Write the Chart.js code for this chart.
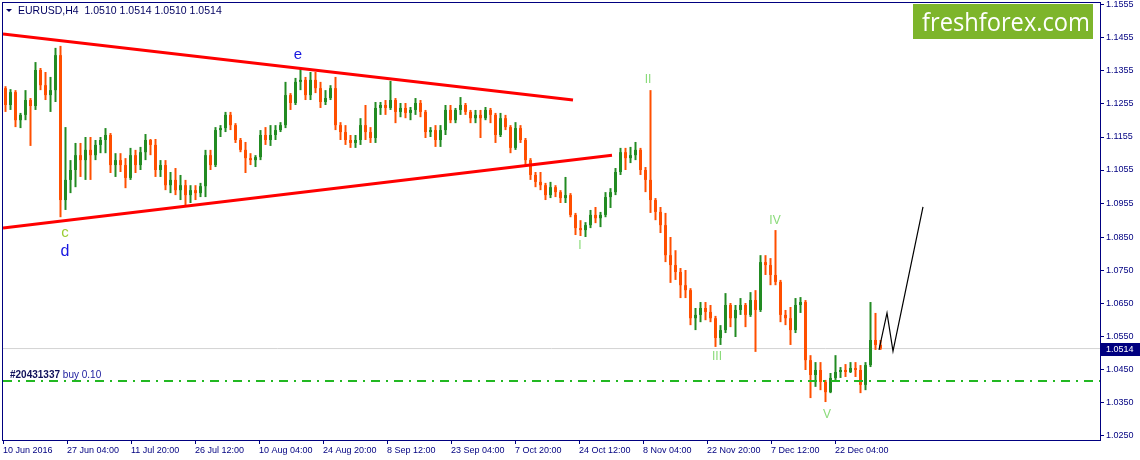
<!DOCTYPE html>
<html><head><meta charset="utf-8">
<script src="https://cdn.jsdelivr.net/npm/chart.js@4.4.1/dist/chart.umd.min.js"></script>
<style>html,body{margin:0;padding:0;background:#fff;overflow:hidden}canvas{display:block}</style>
</head><body>
<canvas id="c" width="1140" height="460"></canvas>
<script>
// ---- DATA ----
const symbolTitle = "EURUSD,H4";
const lastBarOHLC = ["1.0510", "1.0514", "1.0510", "1.0514"];
const barsPerCandle = 5; // each drawn candle aggregates 5 H4 bars

const open = [
1.1303,1.1252,1.1291,1.1206,1.1222,1.1267,1.1249,1.1358,1.1312,1.1282,
1.1297,1.1403,1.0964,1.1025,1.1055,1.1100,1.1085,1.1116,1.1100,1.1131,
1.1146,1.1161,1.1070,1.1085,1.1070,1.1031,1.1100,1.1070,1.1109,1.1146,
1.1131,1.1055,1.1070,1.1009,1.1025,1.0994,1.1009,1.0979,1.0994,1.0985,
1.1006,1.1100,1.1070,1.1176,1.1182,1.1222,1.1191,1.1146,1.1116,1.1091,
1.1085,1.1094,1.1161,1.1146,1.1161,1.1176,1.1191,1.1282,1.1258,1.1322,
1.1328,1.1282,1.1328,1.1303,1.1261,1.1273,1.1303,1.1191,1.1170,1.1146,
1.1137,1.1146,1.1191,1.1170,1.1152,1.1243,1.1252,1.1243,1.1267,1.1231,
1.1243,1.1228,1.1237,1.1258,1.1231,1.1170,1.1176,1.1146,1.1176,1.1237,
1.1206,1.1237,1.1252,1.1231,1.1212,1.1222,1.1212,1.1237,1.1222,1.1161,
1.1212,1.1185,1.1122,1.1182,1.1146,1.1085,1.1040,1.1019,1.1009,1.0979,
1.1003,1.0988,1.0970,1.0979,1.0919,1.0879,1.0873,1.0888,1.0919,1.0909,
1.0919,1.0973,1.0988,1.1049,1.1109,1.1091,1.1100,1.1116,1.1055,1.1025,
1.0964,1.0928,1.0888,1.0797,1.0767,1.0746,1.0706,1.0691,1.0606,1.0616,
1.0637,1.0625,1.0606,1.0546,1.0570,1.0646,1.0606,1.0631,1.0646,1.0616,
1.0661,1.0631,1.0776,1.0767,1.0737,1.0716,1.0616,1.0606,1.0570,1.0646,
1.0655,1.0479,1.0434,1.0449,1.0413,1.0382,1.0425,1.0443,1.0449,1.0443,
1.0455,1.0449,1.0404,1.0464,1.0540,1.0525];
const high = [
1.1309,1.1300,1.1297,1.1228,1.1297,1.1273,1.1382,1.1364,1.1352,1.1337,
1.1425,1.1431,1.1185,1.1085,1.1137,1.1137,1.1155,1.1155,1.1146,1.1155,
1.1182,1.1167,1.1106,1.1106,1.1091,1.1122,1.1116,1.1125,1.1164,1.1149,
1.1149,1.1085,1.1085,1.1049,1.1061,1.1040,1.1025,1.1009,1.1009,1.1016,
1.1116,1.1116,1.1185,1.1191,1.1231,1.1231,1.1197,1.1152,1.1140,1.1106,
1.1100,1.1176,1.1185,1.1191,1.1191,1.1200,1.1322,1.1288,1.1334,1.1364,
1.1337,1.1352,1.1352,1.1322,1.1297,1.1312,1.1337,1.1200,1.1191,1.1161,
1.1161,1.1212,1.1252,1.1185,1.1261,1.1261,1.1267,1.1325,1.1273,1.1258,
1.1258,1.1246,1.1273,1.1267,1.1237,1.1185,1.1191,1.1191,1.1252,1.1252,
1.1243,1.1276,1.1258,1.1237,1.1237,1.1237,1.1246,1.1243,1.1228,1.1228,
1.1222,1.1191,1.1200,1.1191,1.1152,1.1091,1.1049,1.1049,1.1016,1.1019,
1.1009,1.0994,1.1034,1.0985,1.0925,1.0903,1.0897,1.0934,1.0943,1.0928,
1.0988,1.1000,1.1061,1.1122,1.1122,1.1125,1.1140,1.1122,1.1064,1.1297,
1.0970,1.0943,1.0925,1.0852,1.0812,1.0758,1.0752,1.0697,1.0637,1.0655,
1.0655,1.0646,1.0613,1.0585,1.0682,1.0652,1.0646,1.0667,1.0652,1.0685,
1.0691,1.0797,1.0797,1.0788,1.0873,1.0722,1.0631,1.0640,1.0667,1.0670,
1.0661,1.0494,1.0473,1.0473,1.0419,1.0440,1.0494,1.0458,1.0467,1.0473,
1.0473,1.0464,1.0473,1.0655,1.0622,1.0540];
const low = [
1.1231,1.1237,1.1185,1.1182,1.1206,1.1128,1.1237,1.1297,1.1267,1.1231,
1.1261,1.0912,1.0934,1.0985,1.1003,1.1034,1.1025,1.1025,1.1085,1.1106,
1.1106,1.1046,1.1034,1.1049,1.1000,1.1025,1.1046,1.1055,1.1085,1.1100,
1.1034,1.1034,1.0994,1.0985,1.0979,1.0964,1.0949,1.0955,1.0964,1.0973,
1.0973,1.1055,1.1064,1.1155,1.1170,1.1176,1.1137,1.1109,1.1046,1.1070,
1.1064,1.1085,1.1131,1.1128,1.1146,1.1170,1.1182,1.1237,1.1252,1.1297,
1.1267,1.1267,1.1288,1.1243,1.1252,1.1267,1.1176,1.1146,1.1131,1.1122,
1.1122,1.1131,1.1146,1.1137,1.1137,1.1222,1.1222,1.1237,1.1197,1.1215,
1.1212,1.1206,1.1222,1.1215,1.1152,1.1155,1.1125,1.1125,1.1161,1.1197,
1.1197,1.1222,1.1222,1.1197,1.1197,1.1152,1.1206,1.1197,1.1137,1.1155,
1.1176,1.1106,1.1116,1.1137,1.1070,1.1025,1.1003,1.0994,1.0964,1.0970,
1.0973,1.0955,1.0955,1.0912,1.0858,1.0855,1.0852,1.0879,1.0894,1.0882,
1.0912,1.0940,1.0979,1.1040,1.1055,1.1076,1.1085,1.1040,1.0988,1.0925,
1.0903,1.0864,1.0776,1.0713,1.0722,1.0667,1.0667,1.0585,1.0570,1.0594,
1.0600,1.0594,1.0519,1.0525,1.0561,1.0579,1.0549,1.0616,1.0579,1.0610,
1.0504,1.0625,1.0737,1.0706,1.0706,1.0594,1.0585,1.0525,1.0561,1.0622,
1.0449,1.0364,1.0398,1.0388,1.0352,1.0379,1.0419,1.0425,1.0428,1.0440,
1.0428,1.0379,1.0388,1.0458,1.0510,1.0510];
const close = [
1.1252,1.1291,1.1206,1.1222,1.1267,1.1249,1.1358,1.1312,1.1282,1.1297,
1.1403,1.0964,1.1025,1.1055,1.1100,1.1085,1.1116,1.1100,1.1131,1.1146,
1.1161,1.1070,1.1085,1.1070,1.1031,1.1100,1.1070,1.1109,1.1146,1.1131,
1.1055,1.1070,1.1009,1.1025,1.0994,1.1009,1.0979,1.0994,1.0985,1.1006,
1.1100,1.1070,1.1176,1.1182,1.1222,1.1191,1.1146,1.1116,1.1091,1.1085,
1.1094,1.1161,1.1146,1.1161,1.1176,1.1191,1.1282,1.1258,1.1322,1.1328,
1.1282,1.1328,1.1303,1.1261,1.1273,1.1303,1.1191,1.1170,1.1146,1.1137,
1.1146,1.1191,1.1170,1.1152,1.1243,1.1252,1.1243,1.1267,1.1231,1.1243,
1.1228,1.1237,1.1258,1.1231,1.1170,1.1176,1.1146,1.1176,1.1237,1.1206,
1.1237,1.1252,1.1231,1.1212,1.1222,1.1212,1.1237,1.1222,1.1161,1.1212,
1.1185,1.1122,1.1182,1.1146,1.1085,1.1040,1.1019,1.1009,1.0979,1.1003,
1.0988,1.0970,1.0979,1.0919,1.0879,1.0873,1.0888,1.0919,1.0909,1.0919,
1.0973,1.0988,1.1049,1.1109,1.1091,1.1100,1.1116,1.1055,1.1025,1.0964,
1.0928,1.0888,1.0797,1.0767,1.0746,1.0706,1.0691,1.0606,1.0616,1.0637,
1.0625,1.0606,1.0546,1.0570,1.0646,1.0606,1.0631,1.0646,1.0616,1.0661,
1.0631,1.0776,1.0767,1.0737,1.0716,1.0616,1.0606,1.0570,1.0646,1.0655,
1.0479,1.0434,1.0449,1.0413,1.0382,1.0425,1.0443,1.0449,1.0443,1.0455,
1.0449,1.0404,1.0464,1.0540,1.0525,1.0514];

// time axis (in H4 bars from 10 Jun 2016 00:00)
const xTickBars = [0,64,128,192,256,320,384,448,512,576,640,704,768,832];
const xTickLabels = ["10 Jun 2016","27 Jun 04:00","11 Jul 20:00","26 Jul 12:00","10 Aug 04:00",
  "24 Aug 20:00","8 Sep 12:00","23 Sep 04:00","7 Oct 20:00","24 Oct 12:00","8 Nov 04:00",
  "22 Nov 20:00","7 Dec 12:00","22 Dec 04:00"];
const xViewBars = [0, 1097];
const yTickValues = [1.1555,1.1455,1.1355,1.1255,1.1155,1.1055,1.0955,1.0850,1.0750,1.0650,1.0550,1.0450,1.0350,1.0250];
const priceView = [1.0237, 1.1561];

// drawn objects: [bar index, price]
const triangleUpper = [[0,1.1467],[570,1.1267]];
const triangleLower = [[0,1.0879],[609,1.1100]];
const forecastPath = [[876,1.0510],[884,1.0622],[890,1.0506],[920,1.0943]];
const orderPrice = 1.0416;
const orderLabel = "#20431337 buy 0.10";
const waveLabels = [
  {t:"e",  bar:295, p:1.1403, c:"#1818E0", s:15},
  {t:"c",  bar:62,  p:1.0864, c:"#9ACD32", s:15},
  {t:"d",  bar:62,  p:1.0809, c:"#1818E0", s:16},
  {t:"II", bar:645, p:1.1328, c:"#8ADB7A", s:12},
  {t:"I",  bar:577, p:1.0825, c:"#8ADB7A", s:12},
  {t:"III",bar:714, p:1.0488, c:"#8ADB7A", s:12},
  {t:"IV", bar:772, p:1.0900, c:"#8ADB7A", s:12},
  {t:"V",  bar:824, p:1.0313, c:"#8ADB7A", s:12}
];

// ---- STYLE ----
const NAVY = "#000080";
const BULL = "#228B22", BEAR = "#FF4F00", DOJI = "#000000";
const FONT = "'Liberation Sans', Arial, sans-serif";

const candleX = open.map((_, i) => i * barsPerCandle + barsPerCandle / 2);
const candleColor = open.map((o, i) => close[i] > o ? BULL : (close[i] < o ? BEAR : DOJI));
const lastClose = close[close.length - 1];
const toXY = arr => arr.map(([x, y]) => ({x, y}));

const overlay = {
  id: 'overlay',
  afterDatasetsDraw(chart) {
    const {ctx, scales: {x, y}} = chart;
    ctx.save();
    ctx.textAlign = 'center';
    ctx.textBaseline = 'middle';
    waveLabels.forEach(w => {
      ctx.font = w.s + "px " + FONT;
      ctx.fillStyle = w.c;
      ctx.fillText(w.t, x.getPixelForValue(w.bar), y.getPixelForValue(w.p));
    });
    // order label
    ctx.textAlign = 'left';
    ctx.textBaseline = 'bottom';
    ctx.font = "bold 10px " + FONT;
    ctx.fillStyle = "#10105A";
    const oy = y.getPixelForValue(orderPrice) - 1;
    ctx.fillText("#20431337", 10, oy);
    const w1 = ctx.measureText("#20431337 ").width;
    ctx.font = "10px " + FONT;
    ctx.fillStyle = "#2020A0";
    ctx.fillText(orderLabel.replace("#20431337 ", ""), 10 + w1, oy);
    ctx.restore();
  },
  afterDraw(chart) {
    const {ctx, chartArea: a, scales: {y}} = chart;
    ctx.save();
    // frame
    ctx.strokeStyle = NAVY;
    ctx.lineWidth = 1;
    ctx.strokeRect(Math.round(a.left) - 0.5, Math.round(a.top) - 0.5,
      Math.round(a.right - a.left) + 1, Math.round(a.bottom - a.top) + 1);
    // title
    ctx.fillStyle = "#000060";
    ctx.beginPath();
    ctx.moveTo(6, 9); ctx.lineTo(12, 9); ctx.lineTo(9, 12); ctx.closePath(); ctx.fill();
    ctx.font = "10.5px " + FONT;
    ctx.textBaseline = 'middle';
    ctx.textAlign = 'left';
    ctx.fillText(symbolTitle + "  " + lastBarOHLC.join(" "), 18, 11);
    // logo
    ctx.fillStyle = "#7DB52B";
    ctx.fillRect(913, 4, 180, 35);
    ctx.fillStyle = "#FFFFFF";
    ctx.font = "25px 'Open Sans', sans-serif";
    const tw = ctx.measureText("freshforex.com").width;
    ctx.translate(922, 31);
    ctx.scale(168 / tw, 1);
    ctx.textBaseline = 'alphabetic';
    ctx.fillText("freshforex.com", 0, 0);
    ctx.restore();
    // current price box
    ctx.save();
    const py = Math.round(y.getPixelForValue(lastClose));
    ctx.fillStyle = NAVY;
    ctx.fillRect(a.right + 1, py - 6, 40, 13);
    ctx.fillStyle = "#FFFFFF";
    ctx.font = "9px " + FONT;
    ctx.textAlign = 'left';
    ctx.textBaseline = 'middle';
    ctx.fillText(lastClose.toFixed(4), a.right + 6, py + 0.5);
    ctx.restore();
  }
};

new Chart(document.getElementById('c'), {
  type: 'bar',
  data: {
    datasets: [
      {type:'line', data: toXY(triangleUpper), borderColor:'#FF0000', borderWidth:3, pointRadius:0, order:0},
      {type:'line', data: toXY(triangleLower), borderColor:'#FF0000', borderWidth:3, pointRadius:0, order:0},
      {type:'line', data: toXY(forecastPath), borderColor:'#000000', borderWidth:1.2, pointRadius:0, order:0},
      {type:'line', data: [{x:xViewBars[0], y:orderPrice}, {x:xViewBars[1], y:orderPrice}],
        borderColor:'#22B822', borderWidth:2, borderDash:[9,6,2,6], pointRadius:0, order:1},
      {type:'bar', data: candleX.map((x, i) => ({x, y:[open[i], close[i]]})),
        backgroundColor: candleColor, barThickness:3, minBarLength:1, grouped:false,
        borderWidth:0, inflateAmount:0, order:2},
      {type:'bar', data: candleX.map((x, i) => ({x, y:[low[i], high[i]]})),
        backgroundColor: candleColor, barThickness:2, grouped:false,
        borderWidth:0, inflateAmount:0, order:3},
      {type:'line', data: [{x:xViewBars[0], y:lastClose}, {x:xViewBars[1], y:lastClose}],
        borderColor:'#D3D3D3', borderWidth:1, pointRadius:0, order:10}
    ]
  },
  options: {
    responsive: false,
    devicePixelRatio: 1,
    animation: false,
    events: [],
    layout: {padding: {left:3, top:3, right:0, bottom:0}},
    plugins: {legend:{display:false}, tooltip:{enabled:false}, title:{display:false}},
    scales: {
      x: {
        type:'linear', min:xViewBars[0], max:xViewBars[1], offset:false,
        grid:{drawOnChartArea:false, drawTicks:true, tickLength:4, color:NAVY, offset:false},
        border:{display:true, color:NAVY, width:1},
        ticks:{autoSkip:false, maxRotation:0, minRotation:0, align:'start', padding:1,
          color:NAVY, font:{family:FONT, size:9}, callback:(v, i) => xTickLabels[i]},
        afterBuildTicks: s => { s.ticks = xTickBars.map(v => ({value:v})); },
        afterFit: s => { s.height = 20; s.paddingLeft = 0; s.paddingRight = 0; }
      },
      y: {
        type:'linear', position:'right', min:priceView[0], max:priceView[1],
        grid:{drawOnChartArea:false, drawTicks:true, tickLength:4, color:NAVY},
        border:{display:true, color:NAVY, width:1},
        ticks:{autoSkip:false, padding:2, color:NAVY, font:{family:FONT, size:9},
          callback: v => Number(v).toFixed(4)},
        afterBuildTicks: s => { s.ticks = yTickValues.map(v => ({value:v})); },
        afterFit: s => { s.width = 40; s.paddingTop = 0; s.paddingBottom = 0; }
      }
    }
  },
  plugins: [overlay]
});
</script>
</body></html>
